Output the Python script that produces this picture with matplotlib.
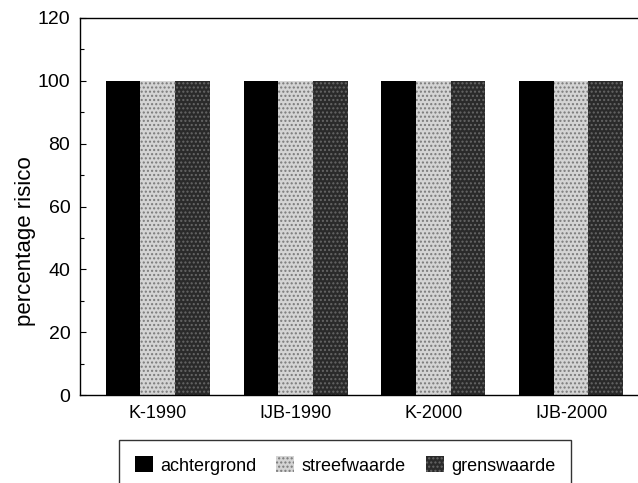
import matplotlib
matplotlib.use("Agg")
import matplotlib.pyplot as plt
import numpy as np
from matplotlib.ticker import MultipleLocator

plt.rcParams['font.family'] = ['Liberation Sans', 'DejaVu Sans']
plt.rcParams['hatch.linewidth'] = 1.0

categories = ["K-1990", "IJB-1990", "K-2000", "IJB-2000"]
series_names = ["achtergrond", "streefwaarde", "grenswaarde"]
achtergrond = [100, 100, 100, 100]
streefwaarde = [100, 100, 100, 100]
grenswaarde = [100, 100, 100, 100]
yticks = [0, 20, 40, 60, 80, 100, 120]

fig = plt.figure(figsize=(6.38, 4.83), dpi=100)
ax = fig.add_axes([80/638, 1-395/483, 1-80/638, (395-18)/483])

x = np.arange(len(categories))
w = 0.252
styles = [
    dict(color='black', edgecolor='black', hatch=None),
    dict(color='#d4d4d4', edgecolor='#7a7a7a', hatch='....'),
    dict(color='#2a2a2a', edgecolor='#666666', hatch='....'),
]
data = [achtergrond, streefwaarde, grenswaarde]
handles = []
for i, (vals, st) in enumerate(zip(data, styles)):
    b = ax.bar(x + (i-1)*w, vals, width=w, facecolor=st['color'],
               edgecolor=st['edgecolor'], hatch=st['hatch'], linewidth=0,
               label=series_names[i])
    handles.append(b)

ax.set_xlim(-0.565, 3.486)
ax.set_ylim(0, 120)
ax.set_yticks(yticks)
ax.yaxis.set_minor_locator(MultipleLocator(10))
ax.set_xticks(x)
ax.set_xticklabels(categories, fontsize=13)
ax.tick_params(axis='y', direction='in', length=4, labelsize=14, width=0.8, pad=7)
ax.tick_params(axis='y', which='minor', direction='in', length=3, width=0.8)
ax.tick_params(axis='x', length=0, pad=7)
ax.spines['right'].set_visible(False)
for s in ['left', 'top', 'bottom']:
    ax.spines[s].set_linewidth(1.0)

fig.text(25/638, 1-241/483, "percentage risico", rotation=90,
         ha='center', va='center', fontsize=16)

leg = fig.legend(handles=handles, labels=series_names, loc='upper center',
                 bbox_to_anchor=(345/638, 1-440/483), ncol=3, fontsize=13,
                 frameon=True, fancybox=False, edgecolor='black',
                 handlelength=1.0, handleheight=1.0, handletextpad=0.4,
                 columnspacing=1.1, borderpad=0.9, borderaxespad=0)
leg.get_frame().set_linewidth(1.0)

fig.savefig("out.png", dpi=100)
